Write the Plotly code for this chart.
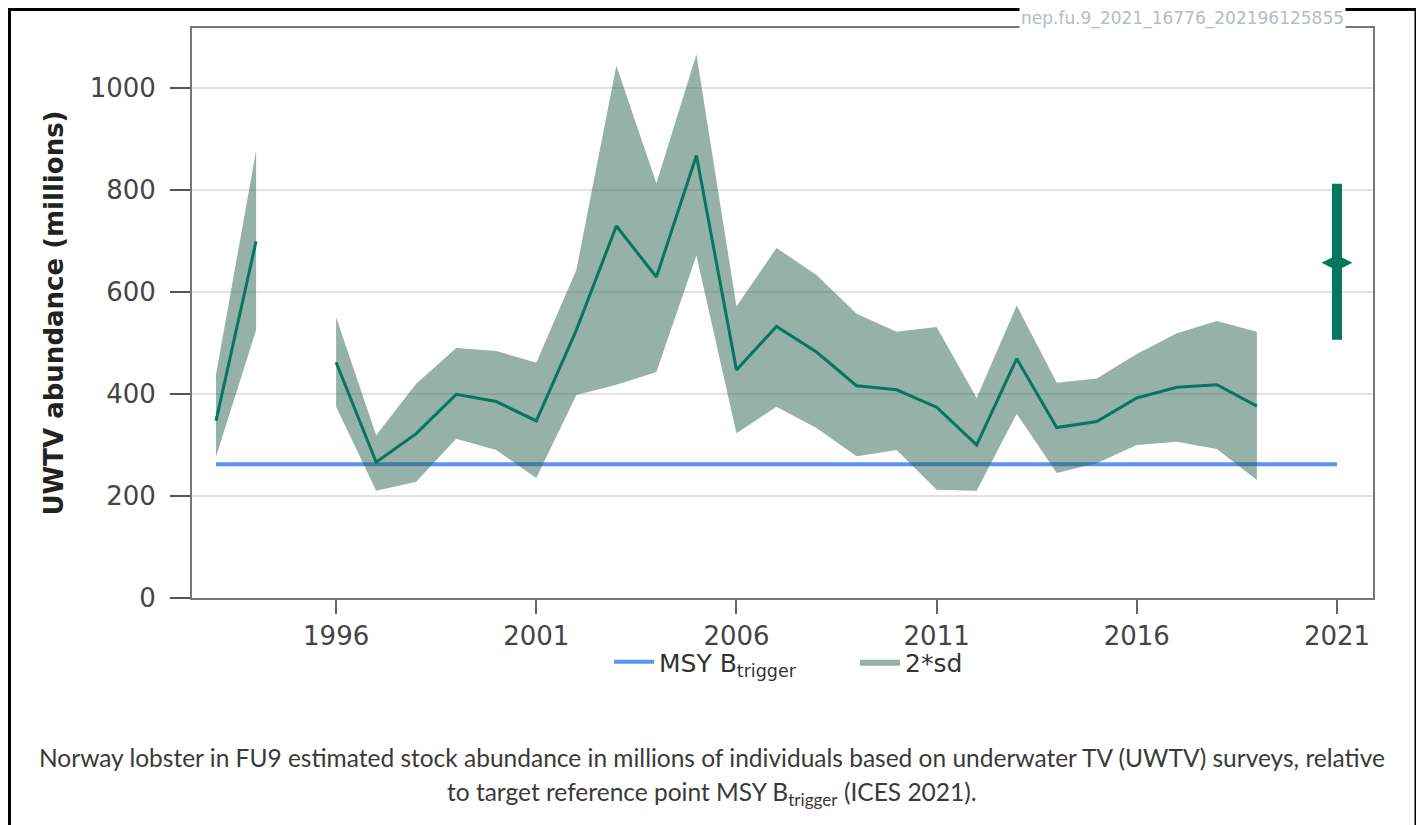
import plotly.graph_objects as go

# ---- data ----
years = [1993, 1994, 1995, 1996, 1997, 1998, 1999, 2000, 2001, 2002, 2003, 2004, 2005,
         2006, 2007, 2008, 2009, 2010, 2011, 2012, 2013, 2014, 2015, 2016, 2017, 2018, 2019]
abundance = [347, 699, None, 462, 266, 322, 399, 385, 347, 525, 729, 629, 867,
             447, 532, 482, 416, 408, 374, 300, 469, 334, 346, 392, 413, 418, 376]
upper = [438, 876, None, 550, 319, 420, 490, 484, 461, 643, 1043, 813, 1065,
         571, 686, 633, 557, 522, 531, 392, 573, 422, 430, 478, 519, 543, 522]
lower = [277, 525, None, 375, 210, 228, 312, 290, 235, 398, 418, 443, 671,
         323, 375, 333, 278, 290, 212, 210, 361, 245, 264, 300, 306, 292, 231]

msy_years = [1993, 2021]
msy_btrigger = 262

pt_year = [2021]
pt_value = [657]
pt_high = [812]
pt_low = [506]

x_ticks = [1996, 2001, 2006, 2011, 2016, 2021]
y_ticks = [0, 200, 400, 600, 800, 1000]

TEAL = "#07765F"
BAND = "rgba(45,100,80,0.5)"
BLUE = "#5B93F7"

# ---- band polygons, one per contiguous run of years ----
band_x, band_y = [], []
seg = []
for i, v in enumerate(abundance):
    if v is None:
        if seg:
            band_x += [years[j] for j in seg] + [years[j] for j in reversed(seg)] + [None]
            band_y += [upper[j] for j in seg] + [lower[j] for j in reversed(seg)] + [None]
        seg = []
    else:
        seg.append(i)
if seg:
    band_x += [years[j] for j in seg] + [years[j] for j in reversed(seg)]
    band_y += [upper[j] for j in seg] + [lower[j] for j in reversed(seg)]

fig = go.Figure()

fig.add_trace(go.Scatter(
    x=msy_years, y=[msy_btrigger] * len(msy_years), mode="lines",
    line=dict(color=BLUE, width=4), name="MSY B<sub>trigger</sub>", showlegend=True,
))
fig.add_trace(go.Scatter(
    x=band_x, y=band_y, mode="lines", fill="toself", fillcolor=BAND,
    line=dict(width=0, color=BAND), name="2*sd", showlegend=True, hoverinfo="skip",
))
fig.add_trace(go.Scatter(
    x=years, y=abundance, mode="lines", connectgaps=False,
    line=dict(color=TEAL, width=3), showlegend=False,
))
fig.add_trace(go.Scatter(
    x=pt_year, y=pt_value, mode="markers",
    marker=dict(symbol="diamond-wide", size=22, color=TEAL),
    error_y=dict(type="data", symmetric=False,
                 array=[h - v for h, v in zip(pt_high, pt_value)],
                 arrayminus=[v - l for v, l in zip(pt_value, pt_low)],
                 thickness=10, width=0, color=TEAL),
    showlegend=False,
))

# The page body adds an 8px margin, so the figure is drawn 8px in from the corner.
OFF = 8
W, H = 1424 - 2 * OFF, 825 - OFF
L, R, T, B = 192 - OFF, 1373 - OFF, 28 - OFF, 598 - OFF


def px(x):
    return (x - OFF - L) / (R - L)


def py(y):
    return (B - (y - OFF)) / (B - T)


shapes = [
    dict(type="line", xref="paper", yref="paper", x0=px(9), x1=px(1416), y0=py(9.5), y1=py(9.5),
         line=dict(color="black", width=3), layer="above"),
    dict(type="line", xref="paper", yref="paper", x0=px(9.5), x1=px(9.5), y0=py(8), y1=py(840),
         line=dict(color="black", width=3), layer="above"),
    dict(type="line", xref="paper", yref="paper", x0=px(1416), x1=px(1416), y0=py(8), y1=py(840),
         line=dict(color="black", width=3), layer="above"),
]

cap_font = dict(family="Lato", size=24.5, color="#3a3a3a")
annotations = [
    dict(text="Norway lobster in FU9 estimated stock abundance in millions of individuals based on "
              "underwater TV (UWTV) surveys, relative",
         xref="paper", yref="paper", x=px(712), y=py(757), xanchor="center", yanchor="middle",
         showarrow=False, font=cap_font),
    dict(text="to target reference point MSY B<sub>trigger</sub> (ICES 2021).",
         xref="paper", yref="paper", x=px(712), y=py(793), xanchor="center", yanchor="middle",
         showarrow=False, font=cap_font),
    dict(text="nep.fu.9_2021_16776_202196125855",
         xref="paper", yref="paper", x=px(1182), y=py(19), xanchor="center", yanchor="middle",
         showarrow=False, bgcolor="white", borderpad=1,
         font=dict(family="DejaVu Sans", size=17, color="#B4BCC4")),
]

fig.update_layout(
    width=W, height=H,
    margin=dict(l=L, r=W - R, t=T, b=H - B),
    paper_bgcolor="white", plot_bgcolor="white",
    font=dict(family="DejaVu Sans", size=26, color="#444444"),
    showlegend=True,
    legend=dict(orientation="h", x=px(609), xanchor="left", y=py(662), yanchor="middle",
                font=dict(family="DejaVu Sans", size=25, color="#333333"),
                itemwidth=40, entrywidth=191, entrywidthmode="pixels",
                bgcolor="rgba(0,0,0,0)"),
    shapes=shapes,
    annotations=annotations,
    xaxis=dict(range=[1992.4, 2021.9], tickvals=x_ticks, ticks="outside", ticklen=14,
               tickwidth=2, tickcolor="#666666", showline=True, linecolor="#777777", linewidth=2,
               mirror=True, showgrid=False, zeroline=False,
               tickfont=dict(family="DejaVu Sans", size=26, color="#444444")),
    yaxis=dict(range=[0, 1117], tickvals=y_ticks, ticks="outside", ticklen=20,
               tickwidth=2, tickcolor="#555555", showline=True, linecolor="#777777", linewidth=2,
               mirror=True, showgrid=True, gridcolor="#E2E2E2", gridwidth=2, zeroline=False,
               ticklabelstandoff=9,
               tickfont=dict(family="DejaVu Sans", size=26, color="#444444"),
               title=dict(text="<b>UWTV abundance (millions)</b>", standoff=19,
                          font=dict(family="DejaVu Sans", size=26, color="#222222"))),
)

fig.write_html("out.html")
